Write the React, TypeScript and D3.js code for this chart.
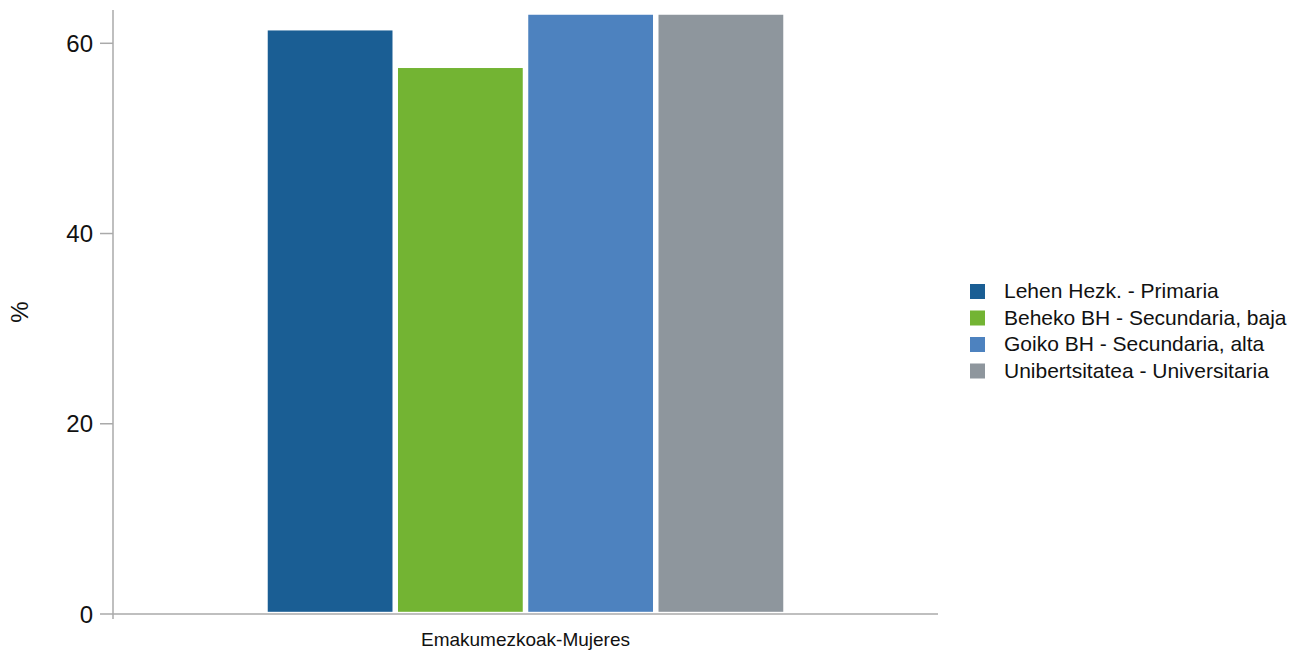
import React from "react";
import * as d3 from "d3";

const categories = ["Emakumezkoak-Mujeres"];
const series = [
  "Lehen Hezk. - Primaria",
  "Beheko BH - Secundaria, baja",
  "Goiko BH - Secundaria, alta",
  "Unibertsitatea - Universitaria",
];
const values = [61.35, 57.4, 63.0, 63.0];
const colors = ["#1a5e94", "#73b433", "#4d82bf", "#8e969d"];
const yTicks = [0, 20, 40, 60];

export default function App() {
  const W = 1310, H = 650;
  const left = 113, right = 938, top = 10, bottom = 614;
  const y = d3.scaleLinear().domain([0, 63.5]).range([bottom, top]);
  const x0 = d3.scaleBand<string>().domain(categories).range([left, right]).paddingOuter(0.2917).paddingInner(0);
  const x1 = d3.scaleBand<string>().domain(series).range([0, x0.bandwidth()]).padding(0);
  const gap = 2.75;
  const font = "Liberation Sans, Arial, sans-serif";
  return (
    <svg width={W} height={H} style={{ position: "absolute", left: 0, top: 0, background: "#fff" }} fontFamily={font}>
      {categories.map((c) => (
        <g key={c} transform={`translate(${x0(c)},0)`}>
          {series.map((s, i) => (
            <rect
              key={s}
              x={(x1(s) as number) + gap}
              y={y(values[i])}
              width={x1.bandwidth() - 2 * gap}
              height={y(0) - y(values[i]) - 2.2}
              fill={colors[i]}
            />
          ))}
        </g>
      ))}
      <line x1={left} x2={left} y1={top} y2={bottom} stroke="#aaa" strokeWidth={1.5} />
      <line x1={left} x2={right} y1={bottom} y2={bottom} stroke="#aaa" strokeWidth={1.5} />
      {yTicks.map((t) => (
        <g key={t}>
          <line x1={100} x2={left} y1={y(t)} y2={y(t)} stroke="#aaa" strokeWidth={1.5} />
          <text x={93} y={y(t)} dy="0.36em" textAnchor="end" fontSize={24} fill="#111">{t}</text>
        </g>
      ))}
      <line x1={left} x2={left} y1={bottom} y2={bottom + 5} stroke="#aaa" strokeWidth={1.5} />
      {categories.map((c) => (
        <text key={c} x={(x0(c) as number) + x0.bandwidth() / 2} y={646} textAnchor="middle" fontSize={19} fill="#111">{c}</text>
      ))}
      <text transform={`translate(28,${(top + bottom) / 2}) rotate(-90)`} textAnchor="middle" fontSize={24} fill="#111">%</text>
      {series.map((s, i) => (
        <g key={s} transform={`translate(970,${284 + i * 26.5})`}>
          <rect x={0} y={0} width={15} height={15} fill={colors[i]} />
          <text x={34} y={14} fontSize={21} fill="#111">{s}</text>
        </g>
      ))}
    </svg>
  );
}
